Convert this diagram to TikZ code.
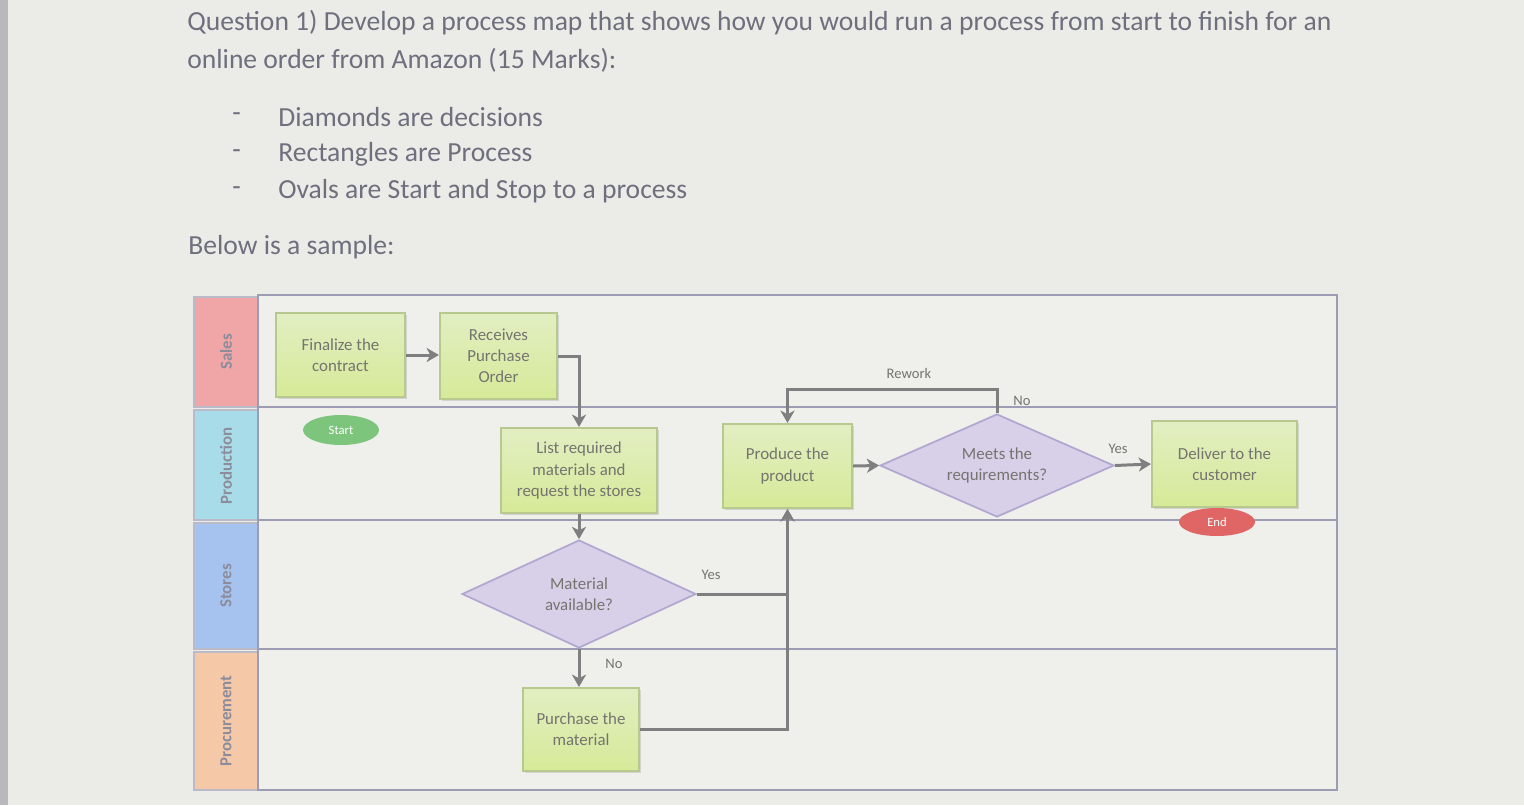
\documentclass[tikz,border=0pt]{standalone}
\usepackage{fontspec}
\setmainfont{Carlito}
\usetikzlibrary{shapes.geometric,arrows.meta,shadows}
\definecolor{bgc}{HTML}{EBEBE8}
\definecolor{strip}{HTML}{B9B9BB}
\definecolor{inner}{HTML}{EFEFEC}
\definecolor{titlec}{HTML}{6F6F7E}
\definecolor{frame}{HTML}{9C9CB2}
\definecolor{txt}{HTML}{747470}
\definecolor{conc}{HTML}{7F7F80}
\definecolor{boxtop}{HTML}{E2EEC2}
\definecolor{boxbot}{HTML}{D6EA98}
\definecolor{boxdraw}{HTML}{B7C98E}
\definecolor{diafill}{HTML}{D8D0E8}
\definecolor{diadraw}{HTML}{B2A7D0}
\definecolor{startc}{HTML}{7DC57D}
\definecolor{endc}{HTML}{E06666}
\definecolor{salesc}{HTML}{F0A6A6}
\definecolor{prodc}{HTML}{A8DCE8}
\definecolor{storec}{HTML}{A6C2EE}
\definecolor{procc}{HTML}{F5C9A8}
\definecolor{lanetxt}{HTML}{8C8C9C}
\tikzset{
  proc/.style={rectangle, draw=boxdraw, line width=1.2pt, top color=boxtop, bottom color=boxbot,
    align=center, text=txt, font=\fontsize{9.6}{12}\selectfont, inner sep=2pt,
    drop shadow={opacity=0.25, shadow xshift=1pt, shadow yshift=-1pt}},
  decis/.style={diamond, draw=diadraw, line width=1pt, fill=diafill, aspect=2.2, inner sep=0pt,
    align=center, text=txt, font=\fontsize{9.6}{12}\selectfont},
  term/.style={ellipse, inner sep=0pt, text=white, font=\fontsize{7.2}{8}\selectfont},
  conn/.style={draw=conc, line width=1.7pt, -{Stealth[length=7pt,width=8pt,inset=2pt]}},
  lbl/.style={text=txt, font=\fontsize{8.3}{10}\selectfont, inner sep=0pt},
  lanehead/.style={draw=frame!70, line width=0.8pt},
  lanetext/.style={rotate=90, text=lanetxt, font=\bfseries\fontsize{9.6}{11}\selectfont},
  maintext/.style={text=titlec, font=\fontsize{15.7}{19}\selectfont, anchor=west, inner sep=0pt}
}
\begin{document}
\begin{tikzpicture}[x=0.02cm,y=-0.02cm]
\useasboundingbox (0,0) rectangle (1524,805);
\fill[bgc] (0,0) rectangle (1524,805);
\fill[strip] (0,0) rectangle (8,805);

% header text
\node[maintext] (t1) at (187,23) {Question 1) Develop a process map that shows how you would run a process from start to finish for an};
\node[maintext] (t2) at (187,60) {online order from Amazon (15 Marks):};
\node[maintext] (d1) at (232,117) {-};
\node[maintext] (d2) at (232,154) {-};
\node[maintext] (d3) at (232,191) {-};
\node[maintext] (b1) at (278,117) {Diamonds are decisions};
\node[maintext] (b2) at (278,154) {Rectangles are Process};
\node[maintext] (b3) at (278,191) {Ovals are Start and Stop to a process};
\node[maintext] (bl) at (188,247) {Below is a sample:};

% swimlane frame
\fill[inner] (258,295) rectangle (1337,790);
\fill[salesc] (194,297) rectangle (258,407);
\fill[prodc] (194,410) rectangle (258,520);
\fill[storec] (194,523) rectangle (258,649);
\fill[procc] (194,652) rectangle (258,790);
\draw[lanehead] (194,297) rectangle (258,407);
\draw[lanehead] (194,410) rectangle (258,520);
\draw[lanehead] (194,523) rectangle (258,649);
\draw[lanehead] (194,652) rectangle (258,790);
\draw[frame, line width=1.6pt] (258,295) rectangle (1337,790);
\draw[frame, line width=1.6pt] (258,407) -- (1337,407);
\draw[frame, line width=1.6pt] (258,520) -- (1337,520);
\draw[frame, line width=1.6pt] (258,649) -- (1337,649);

\node[lanetext] (ls) at (226,352) {Sales};
\node[lanetext] (lp) at (226,466) {Production};
\node[lanetext] (lst) at (226,586) {Stores};
\node[lanetext] (lpr) at (226,721) {Procurement};

% nodes
\node[proc, minimum width=2.58cm, minimum height=1.68cm] (fin) at (340.5,355) {Finalize the\\contract};
\node[proc, minimum width=2.34cm, minimum height=1.72cm] (rec) at (498.5,356) {Receives\\Purchase\\Order};
\node[term, fill=startc, minimum width=1.52cm, minimum height=0.6cm] (start) at (341,430) {Start};
\node[proc, minimum width=3.12cm, minimum height=1.70cm] (list) at (579,470.5) {List required\\materials and\\request the stores};
\node[decis, minimum width=4.68cm, minimum height=2.16cm] (mat) at (579,594) {Material\\available?};
\node[proc, minimum width=2.32cm, minimum height=1.66cm] (purch) at (581,729.5) {Purchase the\\material};
\node[proc, minimum width=2.58cm, minimum height=1.68cm] (prod) at (787.5,466) {Produce the\\product};
\node[decis, minimum width=4.68cm, minimum height=2.06cm] (meets) at (997,465.5) {Meets the\\requirements?};
\node[proc, minimum width=2.9cm, minimum height=1.72cm] (deliv) at (1224.5,464) {Deliver to the\\customer};
\node[term, fill=endc, minimum width=1.52cm, minimum height=0.56cm] (endn) at (1217,522) {End};

% connectors
\coordinate (rwk) at (997,389);
\draw[conn] (fin.east) -- (fin.east -| rec.west);
\draw[conn] (rec.east) -| (list.north);
\draw[conn] (list.south) -- (mat.north);
\draw[conn] (mat.south) -- (mat.south |- purch.north);
\draw[conn] (mat.east) -| (prod.south);
\draw[conn] (purch.east) -| (prod.south);
\draw[conn] (prod.east) -- (meets.west);
\draw[conn] (meets.north) -- (rwk) -| (prod.north);
\draw[conn] (meets.east) -- (deliv.west);

% labels
\node[lbl] (lrw) at (909,373) {Rework};
\node[lbl] (lno1) at (1022,401) {No};
\node[lbl] (lyes1) at (1118,449) {Yes};
\node[lbl] (lyes2) at (711,575) {Yes};
\node[lbl] (lno2) at (614,664) {No};
\end{tikzpicture}
\end{document}
